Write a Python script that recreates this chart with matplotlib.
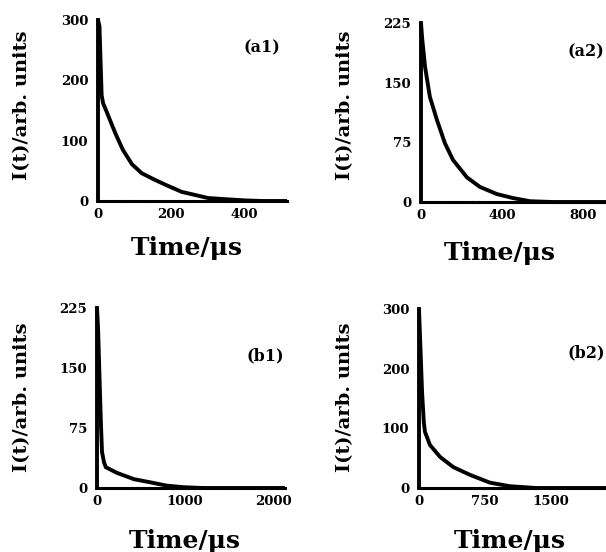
import matplotlib
matplotlib.use("Agg")
import matplotlib.pyplot as plt

# decay curves (t in us, I in arb. units)
t_a1 = [0, 4, 10, 14, 25, 47, 68, 93, 120, 156, 192, 230, 266, 301, 348, 403, 450, 518]
I_a1 = [300, 290, 175, 162, 146, 113, 85, 61, 46, 35, 25, 15, 10, 5, 3, 1, 0, 0]

t_a2 = [0, 6, 20, 44, 79, 118, 158, 227, 291, 375, 454, 538, 650, 915]
I_a2 = [225, 205, 170, 132, 103, 74, 53, 31, 19, 10, 5, 1, 0, 0]

t_b1 = [0, 12, 28, 45, 57, 80, 100, 225, 420, 610, 790, 980, 1200, 2136]
I_b1 = [225, 200, 140, 79, 45, 32, 26, 19, 11, 7, 3, 1, 0, 0]

t_b2 = [0, 15, 35, 55, 68, 125, 240, 390, 580, 805, 1030, 1330, 2125]
I_b2 = [300, 240, 160, 110, 94, 72, 52, 35, 22, 9, 3, 0, 0]

panels = [
    dict(t=t_a1, I=I_a1, xt=[0, 200, 400], yt=[0, 100, 200, 300], xlim=518, ylim=300, tag="(a1)",
         pos=[98, 20, 287, 201], tagxy=(262, 48), xl=(187, 248), yl=(22, 105)),
    dict(t=t_a2, I=I_a2, xt=[0, 400, 800], yt=[0, 75, 150, 225], xlim=915, ylim=225, tag="(a2)",
         pos=[421, 23, 606, 202], tagxy=(586, 52), xl=(500, 253), yl=(345, 105)),
    dict(t=t_b1, I=I_b1, xt=[0, 1000, 2000], yt=[0, 75, 150, 225], xlim=2136, ylim=225, tag="(b1)",
         pos=[97, 308, 285, 488], tagxy=(265, 356), xl=(185, 541), yl=(22, 397)),
    dict(t=t_b2, I=I_b2, xt=[0, 750, 1500], yt=[0, 100, 200, 300], xlim=2125, ylim=300, tag="(b2)",
         pos=[419, 309, 606, 488], tagxy=(586, 353), xl=(510, 541), yl=(345, 397)),
]

W, H = 606, 552
fig = plt.figure(figsize=(W / 100, H / 100), dpi=100)
fam = "DejaVu Serif"

for p in panels:
    x0, y0, x1, y1 = p["pos"]
    ax = fig.add_axes([x0 / W, 1 - y1 / H, (x1 - x0) / W, (y1 - y0) / H])
    ax.plot(p["t"], p["I"], color="black", lw=2.8, solid_capstyle="butt",
            solid_joinstyle="round", clip_on=False)
    ax.set_xlim(0, p["xlim"])
    ax.set_ylim(0, p["ylim"])
    for s in ["top", "right"]:
        ax.spines[s].set_visible(False)
    ax.spines["left"].set_linewidth(2.8)
    ax.spines["bottom"].set_linewidth(2.2)
    ax.spines["bottom"].set_linestyle((0, (1.5, 0.4)))
    ax.set_xticks(p["xt"])
    ax.set_yticks(p["yt"])
    ax.tick_params(length=0, pad=5)
    ax.tick_params(axis="y", pad=7)
    for lab in ax.get_xticklabels() + ax.get_yticklabels():
        lab.set_fontfamily(fam)
        lab.set_fontweight("heavy")
        lab.set_fontsize(9.5)
    ax.patch.set_visible(False)
    fig.text(p["tagxy"][0] / W, 1 - p["tagxy"][1] / H, p["tag"], ha="center", va="center",
             family=fam, weight="bold", fontsize=11.5)
    fig.text(p["xl"][0] / W, 1 - p["xl"][1] / H, "Time/\u03bcs", ha="center", va="center",
             family=fam, weight="bold", fontsize=18)
    fig.text(p["yl"][0] / W, 1 - p["yl"][1] / H, "I(t)/arb. units", ha="center", va="center",
             family=fam, weight="bold", fontsize=14, rotation=90)

fig.savefig("out.png", dpi=100)
